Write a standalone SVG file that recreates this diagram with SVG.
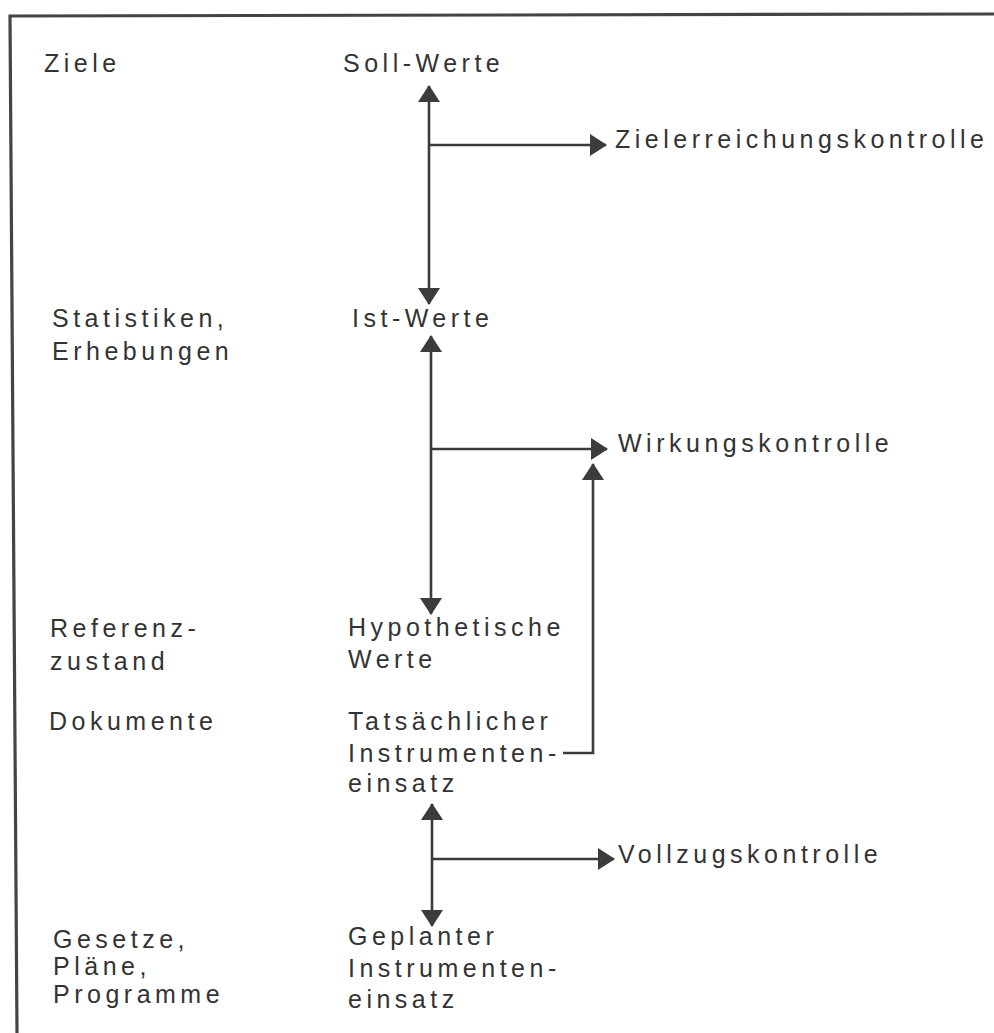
<svg xmlns="http://www.w3.org/2000/svg" width="994" height="1033" viewBox="0 0 994 1033">
<style>
text{font-family:"Liberation Sans",Arial,sans-serif;font-size:25px;letter-spacing:4.5px;fill:#333}
.ln{stroke:#3c3c3c;stroke-width:2.6;fill:none}
.frame{stroke:#444;stroke-width:3.2;fill:none}
</style>
<defs>
<marker id="ah" viewBox="0 0 17 22" refX="16" refY="11" markerWidth="17" markerHeight="22" markerUnits="userSpaceOnUse" orient="auto-start-reverse">
<path d="M0,0 L17,11 L0,22 Z" fill="#3c3c3c"/>
</marker>
</defs>
<path class="frame" d="M17,1033 L10,16 L994,14"/>
<g id="connectors">
<line class="ln" x1="429" y1="86" x2="429" y2="304" marker-start="url(#ah)" marker-end="url(#ah)"/>
<line class="ln" x1="429" y1="145" x2="606" y2="145" marker-end="url(#ah)"/>
<line class="ln" x1="431" y1="336" x2="431" y2="614" marker-start="url(#ah)" marker-end="url(#ah)"/>
<line class="ln" x1="431" y1="449" x2="607" y2="449" marker-end="url(#ah)"/>
<path class="ln" d="M563,753 H593 V464" marker-end="url(#ah)"/>
<line class="ln" x1="432" y1="804" x2="432" y2="926" marker-start="url(#ah)" marker-end="url(#ah)"/>
<line class="ln" x1="432" y1="859" x2="614" y2="859" marker-end="url(#ah)"/>
</g>
<g id="ziele"><text x="44" y="72">Ziele</text></g>
<g id="soll-werte"><text x="343" y="72">Soll-Werte</text></g>
<g id="zielerreichungskontrolle"><text x="615" y="148">Zielerreichungskontrolle</text></g>
<g id="statistiken"><text x="52" y="327">Statistiken,</text><text x="52" y="360">Erhebungen</text></g>
<g id="ist-werte"><text x="352" y="327">Ist-Werte</text></g>
<g id="wirkungskontrolle"><text x="618" y="452">Wirkungskontrolle</text></g>
<g id="referenzzustand"><text x="50" y="637">Referenz-</text><text x="50" y="670">zustand</text></g>
<g id="hypothetische-werte"><text x="348" y="636">Hypothetische</text><text x="348" y="668">Werte</text></g>
<g id="dokumente"><text x="49" y="730">Dokumente</text></g>
<g id="tatsaechlicher-einsatz"><text x="348" y="730">Tatsächlicher</text><text x="348" y="762">Instrumenten-</text><text x="348" y="792">einsatz</text></g>
<g id="vollzugskontrolle"><text x="618" y="863">Vollzugskontrolle</text></g>
<g id="gesetze"><text x="53" y="948">Gesetze,</text><text x="53" y="975">Pläne,</text><text x="53" y="1003">Programme</text></g>
<g id="geplanter-einsatz"><text x="348" y="945">Geplanter</text><text x="348" y="977">Instrumenten-</text><text x="348" y="1008">einsatz</text></g>
</svg>
